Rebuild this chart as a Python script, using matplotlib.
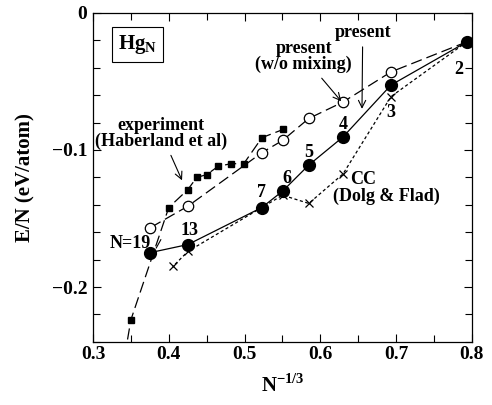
import matplotlib
matplotlib.use('Agg')
import matplotlib.pyplot as plt
from matplotlib.ticker import MultipleLocator, FixedFormatter, FixedLocator
import numpy as np

plt.rcParams['font.family'] = ['Liberation Serif', 'DejaVu Serif']
plt.rcParams['font.weight'] = 'bold'

# cluster sizes and energies
n_present = np.array([2, 3, 4, 5, 6, 7, 13, 19])
e_present = [-0.021, -0.0526, -0.0905, -0.111, -0.130, -0.142, -0.169, -0.175]

n_nomix = np.array([2, 3, 4, 5, 6, 7, 13, 19])
e_nomix = [-0.021, -0.043, -0.065, -0.077, -0.093, -0.102, -0.141, -0.157]

n_cc = np.array([2, 3, 4, 5, 6, 7, 13, 15])
e_cc = [-0.021, -0.061, -0.1175, -0.139, -0.133, -0.142, -0.174, -0.185]

x_exp = [0.342, 0.350, 0.400, 0.425, 0.437, 0.450, 0.465, 0.482, 0.499, 0.523, 0.551]
e_exp = [-0.25, -0.224, -0.142, -0.129, -0.120, -0.118, -0.112, -0.110, -0.110, -0.091, -0.085]

size_labels = ['2', '3', '4', '5', '6', '7', '13', 'N=19']

fig = plt.figure(figsize=(4.92, 4.05), dpi=100)
ax = fig.add_axes([0.189, 0.156, 0.770, 0.812])

x_present = n_present ** (-1.0 / 3)
x_nomix = n_nomix ** (-1.0 / 3)
x_cc = n_cc ** (-1.0 / 3)

ax.plot(x_exp, e_exp, color='k', lw=0.9, dashes=(9, 4), marker='s', ms=5,
        mfc='k', mec='k')
ax.plot(x_nomix, e_nomix, color='k', lw=0.9, dashes=(9, 4), marker='o', ms=7.5,
        mfc='white', mec='k', mew=0.9)
ax.plot(x_cc, e_cc, color='k', lw=0.9, dashes=(2.5, 2), marker='x', ms=6,
        mew=0.9)
ax.plot(x_present, e_present, color='k', lw=0.9, marker='o', ms=8.5,
        mfc='k', mec='k')

# point labels (offsets in points)
offs = [(-6, -20), (0, -20), (0, 9), (0, 9), (3, 9), (0, 11), (1, 10), (-14, 7)]
for x, e, lab, (dx, dy) in zip(x_present, e_present, size_labels, offs):
    ax.annotate(lab, (x, e), xytext=(dx, dy), textcoords='offset points',
                ha='center', va='center', fontsize=13, fontweight='bold')

ax.plot([0.3835, 0.3895], [-0.1715, -0.1655], color='k', lw=0.8)

ax.text(0.333, -0.0145, r'Hg$_\mathregular{N}$', fontsize=15, fontweight='bold',
        va='top', ha='left',
        bbox=dict(boxstyle='square,pad=0.3', fc='white', ec='k', lw=0.8))

ap = dict(arrowstyle='->', color='k', lw=0.8)
ax.annotate('present\n(w/o mixing)', xy=(0.630, -0.066), xytext=(0.578, -0.032),
            ha='center', va='center', fontsize=13, fontweight='bold',
            linespacing=0.9, arrowprops=ap)
ax.annotate('present', xy=(0.655, -0.072), xytext=(0.656, -0.0145),
            ha='center', va='center', fontsize=13, fontweight='bold',
            arrowprops=ap)
ax.annotate('experiment\n(Haberland et al)', xy=(0.419, -0.124),
            xytext=(0.390, -0.088), ha='center', va='center', fontsize=13,
            fontweight='bold', linespacing=0.9, arrowprops=ap)
ax.text(0.6395, -0.1219, 'CC', ha='left', va='center',
        fontsize=13, fontweight='bold')
ax.text(0.6166, -0.1336, '(Dolg & Flad)', ha='left', va='center',
        fontsize=13, fontweight='bold')

ax.set_xlim(0.3, 0.8)
ax.set_ylim(-0.24, 0.0)
ax.xaxis.set_major_locator(MultipleLocator(0.1))
ax.xaxis.set_minor_locator(MultipleLocator(0.05))
ax.yaxis.set_major_locator(FixedLocator([-0.2, -0.1, 0.0]))
ax.yaxis.set_major_formatter(FixedFormatter(['\u22120.2', '\u22120.1', '0']))
ax.yaxis.set_minor_locator(MultipleLocator(0.02))
ax.tick_params(which='both', direction='in', top=True, right=True,
               labelsize=14, width=0.8)
ax.tick_params(which='major', length=6)
ax.tick_params(axis='x', which='major', pad=3)
ax.tick_params(axis='y', which='major', pad=4)
ax.tick_params(which='minor', length=5)
for lab in ax.get_xticklabels() + ax.get_yticklabels():
    lab.set_fontweight('bold')
for sp in ax.spines.values():
    sp.set_linewidth(0.9)

ax.set_xlabel(r'N$^{\mathregular{-1/3}}$', fontsize=15, fontweight='bold', labelpad=8)
ax.set_ylabel('E/N (eV/atom)', fontsize=15, fontweight='bold', labelpad=12)

fig.savefig('out.png', dpi=100)
